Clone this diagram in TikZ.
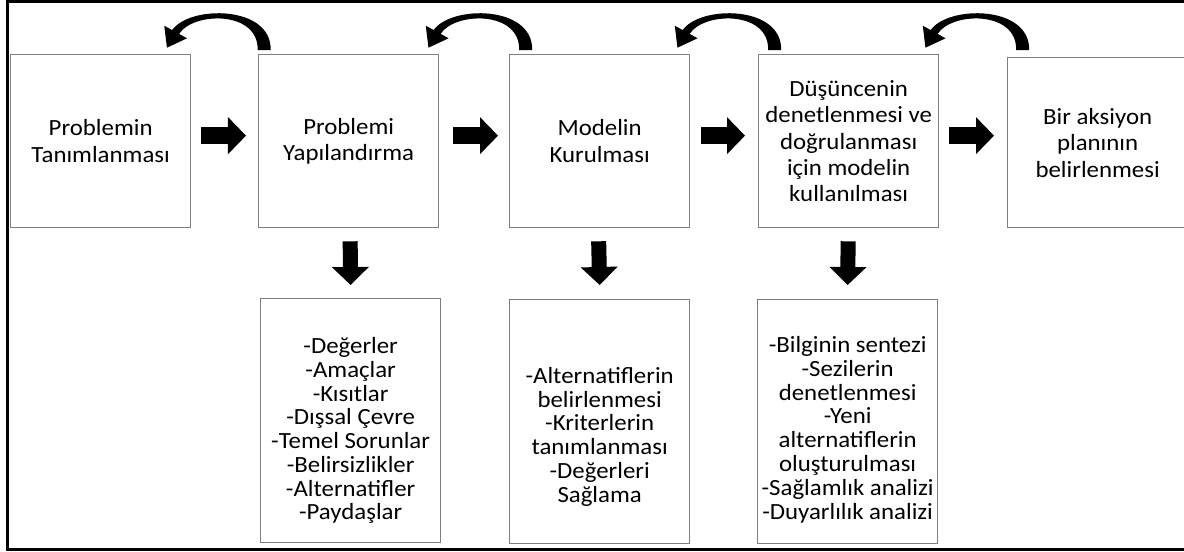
\documentclass[tikz,border=0pt]{standalone}
\usepackage{fontspec}
\setmainfont{Carlito}[FakeStretch=1.07]
\usetikzlibrary{arrows.meta,calc}
\definecolor{BoxGray}{HTML}{7F7F7F}
\tikzset{
  stagebox/.style={draw=BoxGray, line width=0.9pt, inner sep=0pt, anchor=north west,
    minimum width=4.5cm, minimum height=4.325cm, align=center,
    font=\fontsize{16.5}{18.8}\selectfont},
  itembox/.style={draw=BoxGray, line width=0.9pt, inner sep=0pt, anchor=north west,
    minimum width=4.5cm, minimum height=6.1cm},
  itemtext/.style={align=center, inner sep=0pt, font=\fontsize{16.5}{16.9}\selectfont},
  flowarr/.style={line width=0.42cm, -{Triangle[length=0.45cm,width=0.9cm]}},
  flowdown/.style={line width=0.375cm, -{Triangle[length=0.45cm,width=0.9cm]}},
  backarr/.pic={
    \fill (49,-4) .. controls (50,-49) and (-32,-49) .. (-49.5,-23.9)
      -- (-57.4,-28.3) -- (-54.7,-6.3) -- (-34.6,-15.7) -- (-42.5,-20.1)
      .. controls (-29,-42) and (37,-44) .. (36,-4) -- cycle;
  }
}

\begin{document}
\begin{tikzpicture}[x=0.025cm, y=-0.025cm]
  \useasboundingbox (0,0) rectangle (1184,552);
  \draw[line width=0.0675cm] (7.5,1.3) rectangle (1200,549.7);

  % stages
  \node[stagebox] (b1) at (10,54) {Problemin\\Tanımlanması};
  \node[stagebox] (b2) at (258,54) {Problemi\\Yapılandırma};
  \node[stagebox] (b3) at (509,54) {Modelin\\Kurulması};
  \node[stagebox] (b4) at (758,54) {Düşüncenin\\denetlenmesi ve\\doğrulanması\\için modelin\\kullanılması};
  \node[stagebox, minimum height=4.25cm] (b5) at (1007,57) {Bir aksiyon\\planının\\belirlenmesi};

  % details
  \node[itembox] (l2) at (260,298) {};
  \node[itembox] (l3) at (509,299) {};
  \node[itembox] (l4) at (757,299) {};
  \node[itemtext] (t2) at ($(l2.center)+(0,10)$) {-Değerler\\-Amaçlar\\-Kısıtlar\\-Dışsal Çevre\\-Temel Sorunlar\\-Belirsizlikler\\-Alternatifler\\-Paydaşlar};
  \node[itemtext] (t3) at ($(l3.center)+(0,15)$) {-Alternatiflerin\\belirlenmesi\\-Kriterlerin\\tanımlanması\\-Değerleri\\Sağlama};
  \node[itemtext] (t4) at ($(l4.center)+(0,8)$) {-Bilginin sentezi\\-Sezilerin\\denetlenmesi\\-Yeni\\alternatiflerin\\oluşturulması\\-Sağlamlık analizi\\-Duyarlılık analizi};

  % forward arrows
  \draw[flowarr] ($(b1.east)+(10,-5.5)$) -- ($(b2.west)+(-12,-5.5)$);
  \draw[flowarr] ($(b2.east)+(14,-5.5)$) -- ($(b3.west)+(-11,-5.5)$);
  \draw[flowarr] ($(b3.east)+(11,-5.5)$) -- ($(b4.west)+(-13,-5.5)$);
  \coordinate (a4) at ($(b4.east)+(10,-5.5)$);
  \draw[flowarr] (a4) -- ($(a4 -| b5.west)+(-13,0)$);

  \draw[flowdown] ($(b2.south)+(1.5,13)$) -- ($(l2.north)+(0,-13)$);
  \draw[flowdown] ($(b3.south)+(-1,13)$) -- ($(l3.north)+(0,-14)$);
  \draw[flowdown] ($(b4.south)+(-0.5,13)$) -- ($(l4.north)+(0,-14)$);

  % back arrows
  \pic at ($(b1.north east)!.5!(b2.north west)+(-3,0)$) {backarr};
  \pic at ($(b2.north east)!.5!(b3.north west)+(9,0)$) {backarr};
  \pic at ($(b3.north east)!.5!(b4.north west)+(8,0)$) {backarr};
  \pic at ($(b4.north east)!.5!(b5.north west)+(7,-1.5)$) {backarr};
\end{tikzpicture}
\end{document}
